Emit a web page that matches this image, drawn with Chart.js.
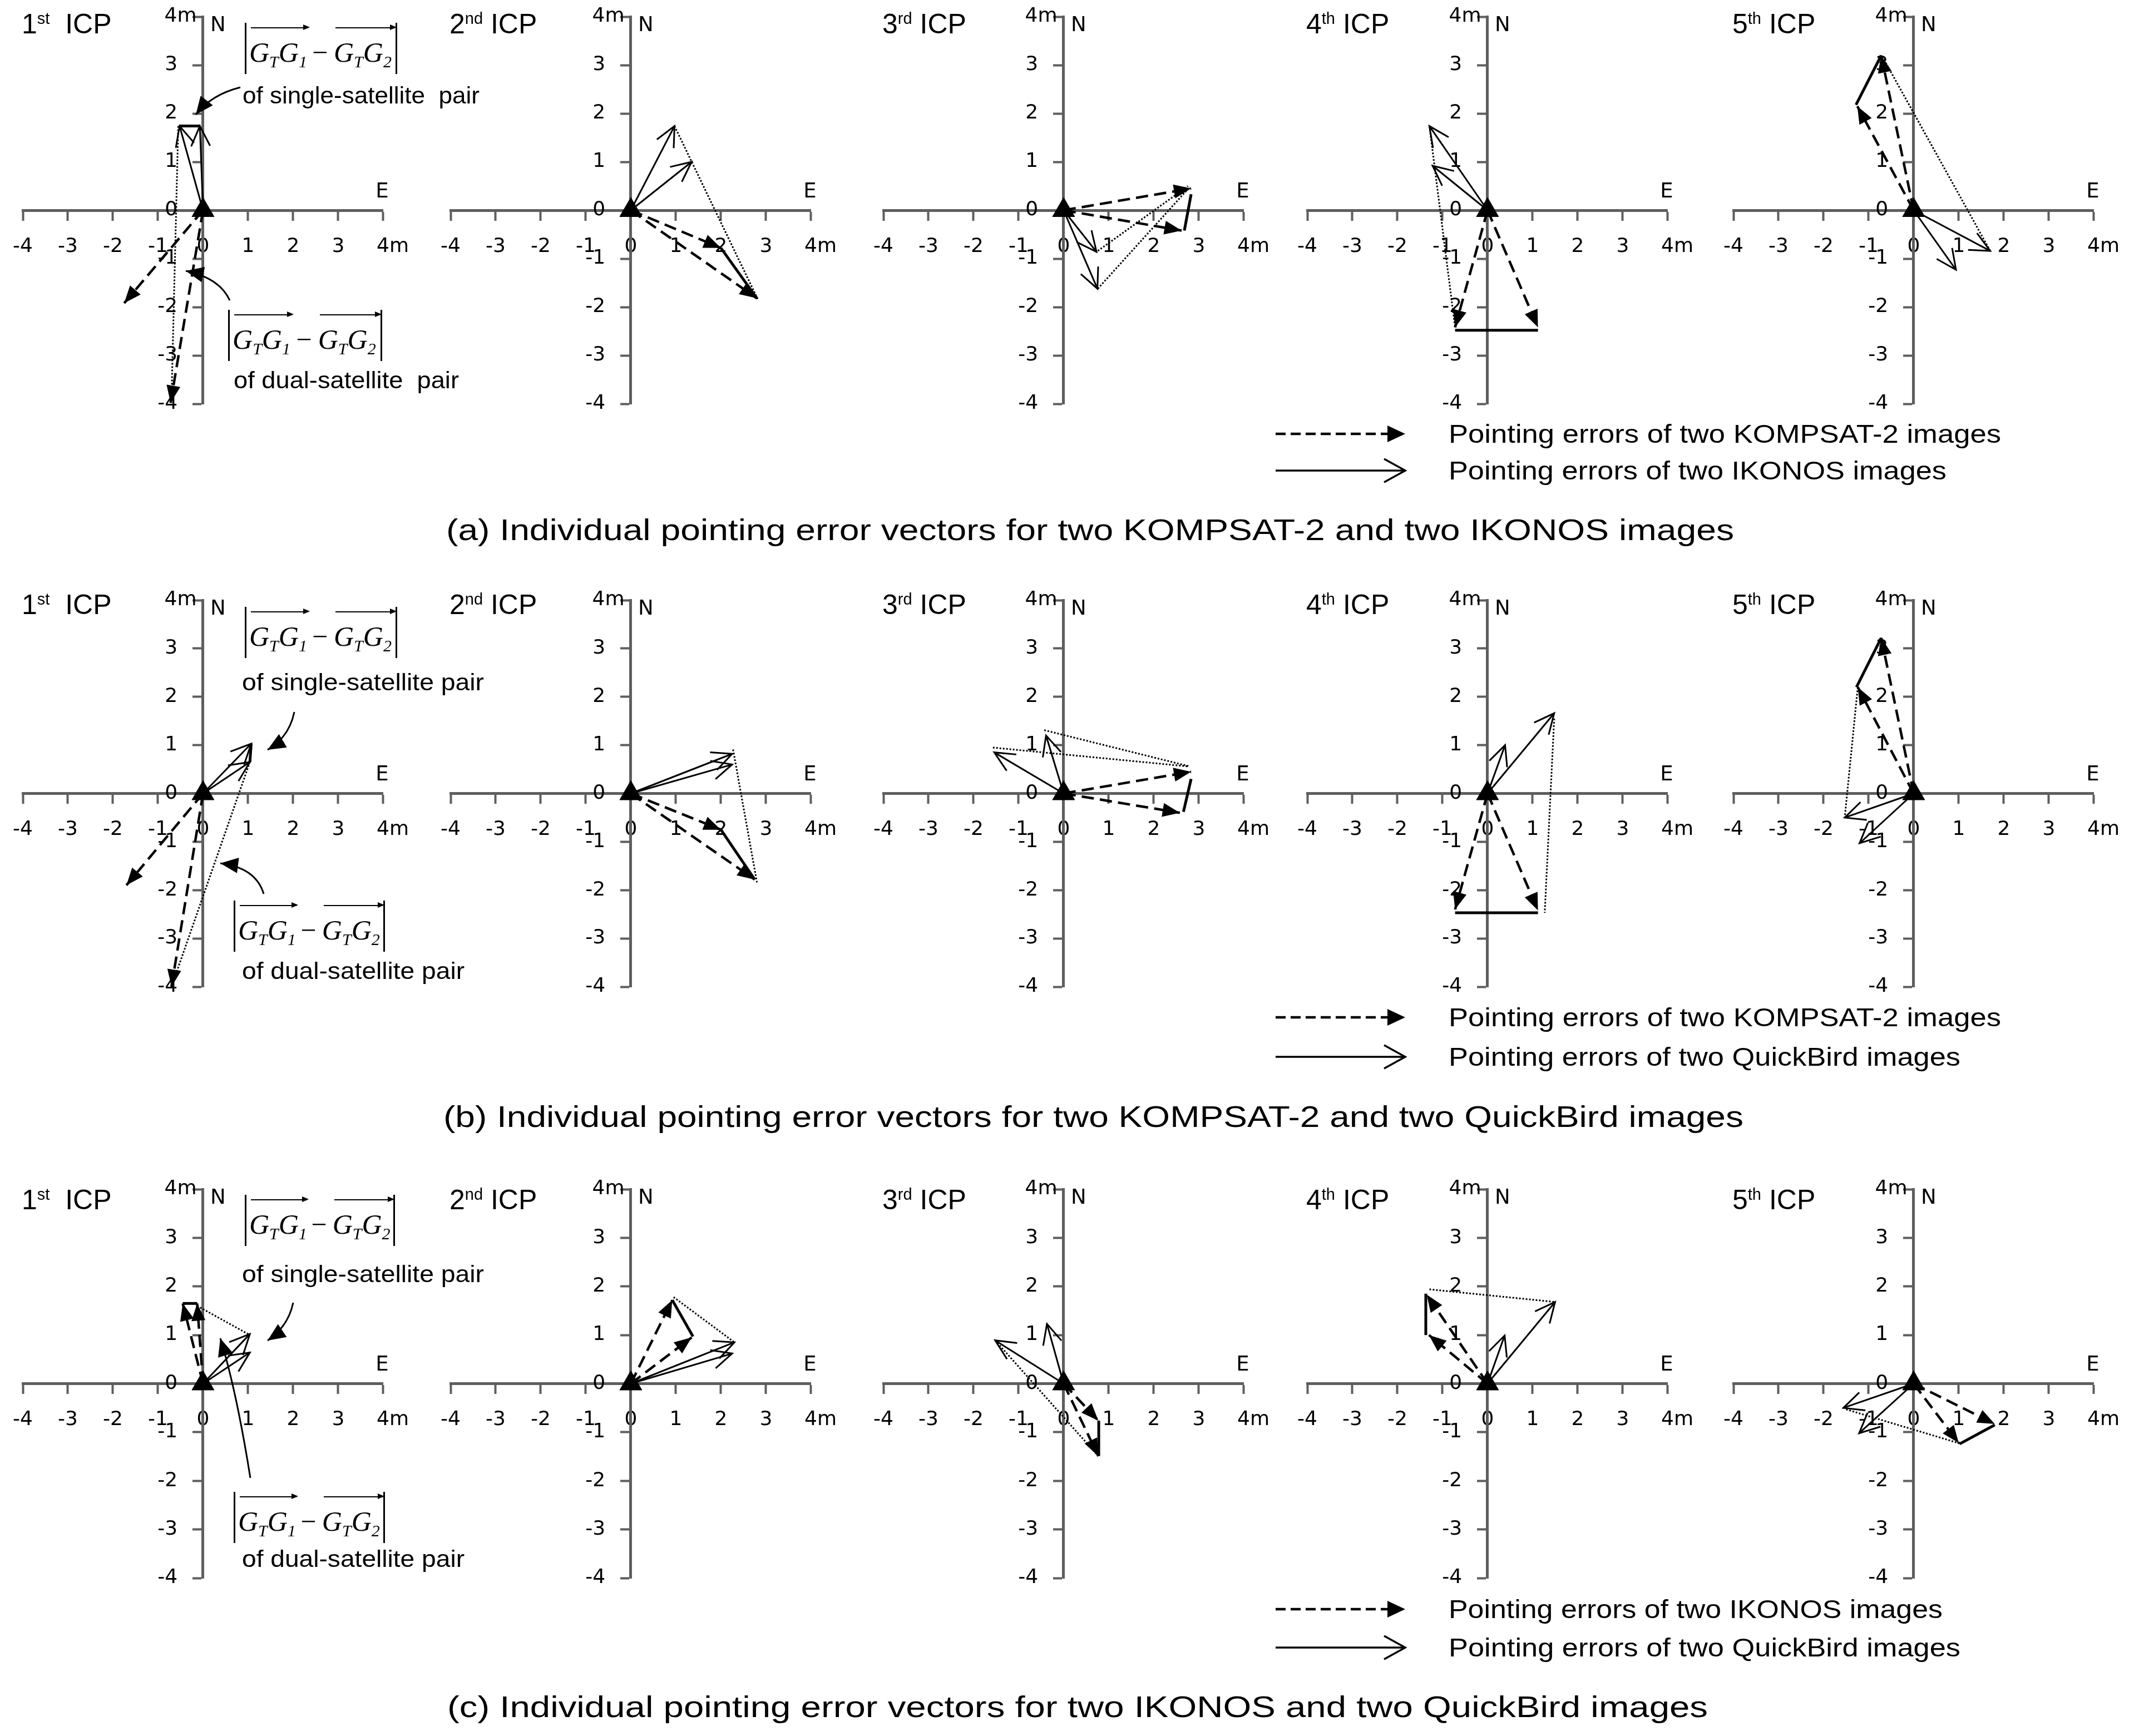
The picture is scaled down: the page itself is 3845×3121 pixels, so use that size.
<!DOCTYPE html>
<html>
<head>
<meta charset="utf-8">
<title>Pointing error vectors</title>
<script src="https://cdn.jsdelivr.net/npm/chart.js@4.4.1/dist/chart.umd.min.js"></script>
<style>
  html, body { margin: 0; padding: 0; background: #fff; }
  body { position: relative; width: 3845px; height: 3121px; overflow: hidden; color: #000;
         font-family: "Liberation Sans", Arial, sans-serif; }
  canvas.panel { position: absolute; z-index: 1; }
  #overlay { position: absolute; left: 0; top: 0; z-index: 2; }
  .txt { position: absolute; white-space: pre; line-height: 1; z-index: 3; }
  .txt .sup { position: relative; top: -17px; font-size: 29px; }
  .formula { position: absolute; height: 92px; box-sizing: border-box; z-index: 3;
             border-left: 3px solid #000; border-right: 3px solid #000; }
  .formula span.g, .formula span.m { position: absolute; top: 28px; line-height: 1; white-space: nowrap;
             font-family: "Liberation Serif", "Times New Roman", serif; font-size: 50px; }
  .formula span.g { font-style: italic; }
  .formula sub { font-size: 30px; vertical-align: baseline; position: relative; top: 10px; line-height: 0; }
  .formula .ov { position: absolute; top: 8px; height: 0; border-top: 2px solid #000; }
  .formula .ov::after { content: ""; position: absolute; right: -3px; top: -7px;
             border-left: 12px solid #000; border-top: 5px solid transparent; border-bottom: 5px solid transparent; }
</style>
</head>
<body>
<svg id="overlay" width="3845" height="3121" xmlns="http://www.w3.org/2000/svg"></svg>
<script>
// ---- values: [East, North] in metres ----
const icpNames = ['1st', '2nd', '3rd', '4th', '5th'];
const axisTicks = [-4, -3, -2, -1, 0, 1, 2, 3, 4];

// (a) KOMPSAT-2 (dashed) + IKONOS (solid)
const aKompsat = [
  [[-1.75, -1.92], [-0.72, -3.98]],
  [[2.0, -0.78], [2.8, -1.82]],
  [[2.83, 0.45], [2.62, -0.42]],
  [[-0.72, -2.42], [1.12, -2.42]],
  [[-0.72, 3.2], [-1.25, 2.15]]
];
const aIkonos = [
  [[-0.52, 1.74], [-0.07, 1.74]],
  [[0.97, 1.74], [1.35, 1.0]],
  [[0.73, -0.86], [0.75, -1.62]],
  [[-1.29, 1.74], [-1.22, 0.92]],
  [[1.7, -0.84], [0.94, -1.23]]
];
const aSinglePair = [
  [[-0.52, 1.74], [-0.07, 1.74]],
  [[2.0, -0.78], [2.8, -1.82]],
  [[2.83, 0.33], [2.68, -0.42]],
  [[-0.72, -2.48], [1.12, -2.48]],
  [[-1.28, 2.18], [-0.72, 3.2]]
];
const aDualPair = [
  [[[-0.55, 1.74], [-0.7, -3.9]]],
  [[[0.97, 1.74], [2.82, -1.84]]],
  [[[0.76, -0.84], [2.76, 0.5]], [[0.76, -1.62], [2.8, 0.48]]],
  [[[-1.29, 1.74], [-0.72, -2.42]]],
  [[[-0.62, 3.05], [1.7, -0.84]]]
];

// (b) KOMPSAT-2 (dashed) + QuickBird (solid)
const bKompsat = [
  [[-1.7, -1.9], [-0.7, -4.0]],
  [[2.0, -0.75], [2.75, -1.78]],
  [[2.83, 0.45], [2.58, -0.4]],
  [[-0.72, -2.4], [1.12, -2.42]],
  [[-0.72, 3.22], [-1.24, 2.2]]
];
const bQuickBird = [
  [[1.07, 1.03], [1.04, 0.65]],
  [[2.25, 0.82], [2.25, 0.6]],
  [[-1.54, 0.85], [-0.39, 1.2]],
  [[1.48, 1.66], [0.39, 1.0]],
  [[-1.53, -0.5], [-1.2, -1.03]]
];
const bSinglePair = [
  [[1.07, 1.03], [1.04, 0.65]],
  [[2.0, -0.75], [2.75, -1.78]],
  [[2.83, 0.3], [2.66, -0.38]],
  [[-0.72, -2.47], [1.12, -2.47]],
  [[-1.27, 2.2], [-0.72, 3.22]]
];
const bDualPair = [
  [[[1.04, 0.65], [-0.7, -4.0]]],
  [[[2.27, 0.91], [2.8, -1.84]]],
  [[[-1.57, 0.95], [2.76, 0.56]], [[-0.43, 1.31], [2.8, 0.56]]],
  [[[1.48, 1.55], [1.27, -2.47]]],
  [[[-1.24, 2.2], [-1.53, -0.5]]]
];

// (c) IKONOS (dashed) + QuickBird (solid)
const cIkonos = [
  [[-0.45, 1.65], [-0.13, 1.65]],
  [[0.92, 1.72], [1.35, 0.95]],
  [[0.77, -0.76], [0.77, -1.49]],
  [[-1.35, 1.83], [-1.3, 1.0]],
  [[1.8, -0.83], [1.0, -1.22]]
];
const cQuickBird = [
  [[1.04, 1.02], [1.04, 0.64]],
  [[2.3, 0.85], [2.25, 0.62]],
  [[-1.52, 0.89], [-0.37, 1.23]],
  [[1.5, 1.68], [0.38, 0.99]],
  [[-1.56, -0.5], [-1.21, -1.02]]
];
const cSinglePair = [
  [[-0.45, 1.65], [-0.13, 1.65]],
  [[0.92, 1.72], [1.38, 0.97]],
  [[0.78, -0.76], [0.78, -1.49]],
  [[-1.37, 1.85], [-1.37, 1.0]],
  [[1.8, -0.85], [1.02, -1.24]]
];
const cDualPair = [
  [[[-0.13, 1.6], [1.04, 1.0]]],
  [[[0.95, 1.78], [2.3, 0.85]]],
  [[[-1.52, 0.89], [0.77, -1.49]]],
  [[[-1.29, 1.94], [1.5, 1.68]]],
  [[[-1.5, -0.53], [1.02, -1.23]]]
];

const captions = [
  '(a) Individual pointing error vectors for two KOMPSAT-2 and two IKONOS images',
  '(b) Individual pointing error vectors for two KOMPSAT-2 and two QuickBird images',
  '(c) Individual pointing error vectors for two IKONOS and two QuickBird images'
];
const legendNames = [
  ['Pointing errors of two KOMPSAT-2 images', 'Pointing errors of two IKONOS images'],
  ['Pointing errors of two KOMPSAT-2 images', 'Pointing errors of two QuickBird images'],
  ['Pointing errors of two IKONOS images', 'Pointing errors of two QuickBird images']
];

// ---- layout (page pixels) ----
const colAxisX = [372, 1141, 1919, 2681, 3447];
const HALF_W = 331;
const PAD = 60;
const rowBox = [
  { top: 30, bottom: 726, titleY: 42, capY: 951, capX: 802, capW: 2315, legY: [780, 846], legW: [993, 895] },
  { top: 1079, bottom: 1774, titleY: 1086, capY: 2006, capX: 797, capW: 2337, legY: [1829, 1900], legW: [993, 920] },
  { top: 2138, bottom: 2837, titleY: 2156, capY: 3067, capX: 804, capW: 2266, legY: [2893, 2962], legW: [888, 920] }
];
const notes = [
  { f1: [440, 41, 274], single: [436, 172, 426, 'of single-satellite  pair'], f2: [410, 557, 277],
    dual: [420, 684, 405, 'of dual-satellite  pair'], p1: [432, 157, 380, 170, 352, 206], p2: [413, 540, 395, 500, 334, 487] },
  { f1: [440, 1091, 274], single: [435, 1227, 435, 'of single-satellite pair'], f2: [420, 1619, 272],
    dual: [435, 1746, 400, 'of dual-satellite pair'], p1: [529, 1280, 520, 1325, 481, 1348], p2: [474, 1607, 460, 1560, 396, 1552] },
  { f1: [440, 2148, 270], single: [435, 2291, 435, 'of single-satellite pair'], f2: [420, 2682, 272],
    dual: [435, 2803, 400, 'of dual-satellite pair'], p1: [527, 2342, 518, 2385, 481, 2410], p2: [450, 2657, 425, 2500, 396, 2406] }
];

const rows = [
  { dashed: aKompsat, solid: aIkonos, single: aSinglePair, dual: aDualPair },
  { dashed: bKompsat, solid: bQuickBird, single: bSinglePair, dual: bDualPair },
  { dashed: cIkonos, solid: cQuickBird, single: cSinglePair, dual: cDualPair }
];

const GRAY = '#5e5e5e';
const FONT = '"Liberation Sans", Arial, sans-serif';
const AXIS_FONT = '"DejaVu Sans", Verdana, sans-serif';
Chart.defaults.font.family = FONT;

// arrow heads at the end of each vector dataset
const vectorHeads = {
  id: 'vectorHeads',
  afterDatasetsDraw(chart) {
    const ctx = chart.ctx;
    chart.data.datasets.forEach((ds, i) => {
      if (!ds.head) return;
      const pts = chart.getDatasetMeta(i).data;
      const a = pts[0], b = pts[1];
      const ang = Math.atan2(b.y - a.y, b.x - a.x);
      ctx.save();
      ctx.translate(b.x, b.y);
      ctx.rotate(ang);
      ctx.beginPath();
      if (ds.head === 'filled') {
        ctx.moveTo(0, 0); ctx.lineTo(-31, -12.5); ctx.lineTo(-31, 12.5); ctx.closePath();
        ctx.fillStyle = '#000'; ctx.fill();
      } else {
        ctx.moveTo(-36, -17); ctx.lineTo(0, 0); ctx.lineTo(-36, 17);
        ctx.lineWidth = 3; ctx.strokeStyle = '#000'; ctx.stroke();
      }
      ctx.restore();
    });
  }
};

// N and E labels at the axis ends
const compassLabels = {
  id: 'compassLabels',
  afterDraw(chart) {
    const { x, y } = chart.scales;
    const ctx = chart.ctx;
    ctx.save();
    ctx.font = '37px ' + AXIS_FONT;
    ctx.fillStyle = '#000';
    ctx.textBaseline = 'middle';
    ctx.textAlign = 'left';
    ctx.fillText('N', x.getPixelForValue(0) + 13, y.getPixelForValue(4) + 16);
    ctx.textAlign = 'center';
    ctx.fillText('E', x.getPixelForValue(4) - 2, y.getPixelForValue(0) - 33);
    ctx.restore();
  }
};

function axisOpts(axis) {
  return {
    type: 'linear', min: -4, max: 4,
    position: axis === 'x' ? { y: 0 } : { x: 0 },
    afterBuildTicks: s => { s.ticks = axisTicks.map(v => ({ value: v })); },
    afterFit: s => { if (axis === 'x') s.height = 0; else s.width = 0; },
    border: { display: true, color: GRAY, width: 5 },
    grid: { drawOnChartArea: false, drawTicks: true, tickLength: 16, tickWidth: 4, tickColor: GRAY, color: GRAY },
    ticks: {
      autoSkip: false, maxRotation: 0, padding: axis === 'x' ? 28 : 0, color: '#000',
      font: { size: 36, family: AXIS_FONT },
      callback: axis === 'x'
        ? v => (v === 4 ? '   4m' : String(v))
        : v => (v === 4 ? '4m ' : v + '    ')
    }
  };
}

function buildSets(row, c) {
  const O = { x: 0, y: 0 };
  const pt = p => ({ x: p[0], y: p[1] });
  const line = { showLine: true, borderColor: '#000', pointRadius: 0, pointHoverRadius: 0, clip: false };
  const sets = [{ data: [O], pointStyle: 'triangle', pointRadius: 23, backgroundColor: '#000',
                  borderColor: '#000', borderWidth: 1, showLine: false }];
  row.dashed[c].forEach(t => sets.push({ ...line, data: [O, pt(t)], borderWidth: 4.5, borderDash: [22, 11], head: 'filled' }));
  row.solid[c].forEach(t => sets.push({ ...line, data: [O, pt(t)], borderWidth: 3, head: 'open' }));
  sets.push({ ...line, data: row.single[c].map(pt), borderWidth: 5 });
  row.dual[c].forEach(seg => sets.push({ ...line, data: seg.map(pt), borderWidth: 3, borderDash: [3, 3] }));
  return sets;
}

function makePanel(r, c) {
  const box = rowBox[r];
  const cx = colAxisX[c];
  const cv = document.createElement('canvas');
  cv.className = 'panel';
  cv.width = 2 * HALF_W + 2 * PAD;
  cv.height = box.bottom - box.top + 2 * PAD;
  cv.style.left = (cx - HALF_W - PAD) + 'px';
  cv.style.top = (box.top - PAD) + 'px';
  document.body.appendChild(cv);
  new Chart(cv, {
    type: 'scatter',
    data: { datasets: buildSets(rows[r], c) },
    options: {
      responsive: false, animation: false, devicePixelRatio: 1, events: [],
      layout: { padding: PAD },
      plugins: { legend: { display: false }, tooltip: { enabled: false }, title: { display: false } },
      scales: { x: axisOpts('x'), y: axisOpts('y') }
    },
    plugins: [vectorHeads, compassLabels]
  });
}

// ---- text helpers ----
function addText(html, left, cy, size, fitW) {
  const el = document.createElement('div');
  el.className = 'txt';
  el.innerHTML = html;
  el.style.left = left + 'px';
  el.style.fontSize = size + 'px';
  el.style.top = (cy - 0.49 * size) + 'px';
  document.body.appendChild(el);
  if (fitW) {
    const w = el.getBoundingClientRect().width;
    el.style.transformOrigin = '0 0';
    el.style.transform = 'scaleX(' + (fitW / w) + ')';
  }
  return el;
}

function addFormula(left, top, width) {
  const k = width / 274;
  const f = document.createElement('div');
  f.className = 'formula';
  f.style.left = left + 'px';
  f.style.top = top + 'px';
  f.style.width = width + 'px';
  f.innerHTML =
    '<span class="g" style="left:' + (5 * k) + 'px">G<sub>T</sub>G<sub>1</sub></span>' +
    '<span class="m" style="left:' + (118 * k) + 'px">\u2212</span>' +
    '<span class="g" style="left:' + (157 * k) + 'px">G<sub>T</sub>G<sub>2</sub></span>' +
    '<div class="ov" style="left:' + (8 * k) + 'px;width:' + (103 * k) + 'px"></div>' +
    '<div class="ov" style="left:' + (160 * k) + 'px;width:' + (107 * k) + 'px"></div>';
  document.body.appendChild(f);
}

const svg = document.getElementById('overlay');
const NS = 'http://www.w3.org/2000/svg';
function svgEl(tag, attrs) {
  const e = document.createElementNS(NS, tag);
  for (const k in attrs) e.setAttribute(k, attrs[k]);
  svg.appendChild(e);
  return e;
}
function filledHead(x, y, ang, L, W) {
  const bx = x - L * Math.cos(ang), by = y - L * Math.sin(ang);
  const nx = -Math.sin(ang) * W, ny = Math.cos(ang) * W;
  svgEl('polygon', { points: `${x},${y} ${bx + nx},${by + ny} ${bx - nx},${by - ny}`, fill: '#000' });
}
function pointer(p) {
  const [x0, y0, qx, qy, x1, y1] = p;
  svgEl('path', { d: `M${x0},${y0} Q${qx},${qy} ${x1},${y1}`, fill: 'none', stroke: '#000', 'stroke-width': 3 });
  filledHead(x1, y1, Math.atan2(y1 - qy, x1 - qx), 32, 14);
}
function legendArrow(y, dashed) {
  const x0 = 2293, x1 = 2526;
  if (dashed) {
    svgEl('line', { x1: x0, y1: y, x2: x1 - 28, y2: y, stroke: '#000', 'stroke-width': 4.5, 'stroke-dasharray': '18 9' });
    filledHead(x1, y, 0, 32, 15);
  } else {
    svgEl('line', { x1: x0, y1: y, x2: x1, y2: y, stroke: '#000', 'stroke-width': 3.5 });
    svgEl('polyline', { points: `${x1 - 38},${y - 21} ${x1},${y} ${x1 - 38},${y + 21}`, fill: 'none', stroke: '#000', 'stroke-width': 3.5 });
  }
}

// ---- build the page ----
rows.forEach((row, r) => {
  const box = rowBox[r];
  for (let c = 0; c < 5; c++) {
    makePanel(r, c);
    const n = icpNames[c];
    addText(n.slice(0, 1) + '<span class="sup">' + n.slice(1) + '</span>' + (c === 0 ? '\u00a0 ' : ' ') + 'ICP',
            colAxisX[c] - 333, box.titleY, 50);
  }
  const nt = notes[r];
  addFormula(nt.f1[0], nt.f1[1], nt.f1[2]);
  addFormula(nt.f2[0], nt.f2[1], nt.f2[2]);
  addText(nt.single[3], nt.single[0], nt.single[1], 42, nt.single[2]);
  addText(nt.dual[3], nt.dual[0], nt.dual[1], 42, nt.dual[2]);
  pointer(nt.p1);
  pointer(nt.p2);

  legendArrow(box.legY[0], true);
  legendArrow(box.legY[1], false);
  addText(legendNames[r][0], 2604, box.legY[0], 46, box.legW[0]);
  addText(legendNames[r][1], 2604, box.legY[1], 46, box.legW[1]);
  addText(captions[r], box.capX, box.capY, 54, box.capW);
});
</script>
</body>
</html>
